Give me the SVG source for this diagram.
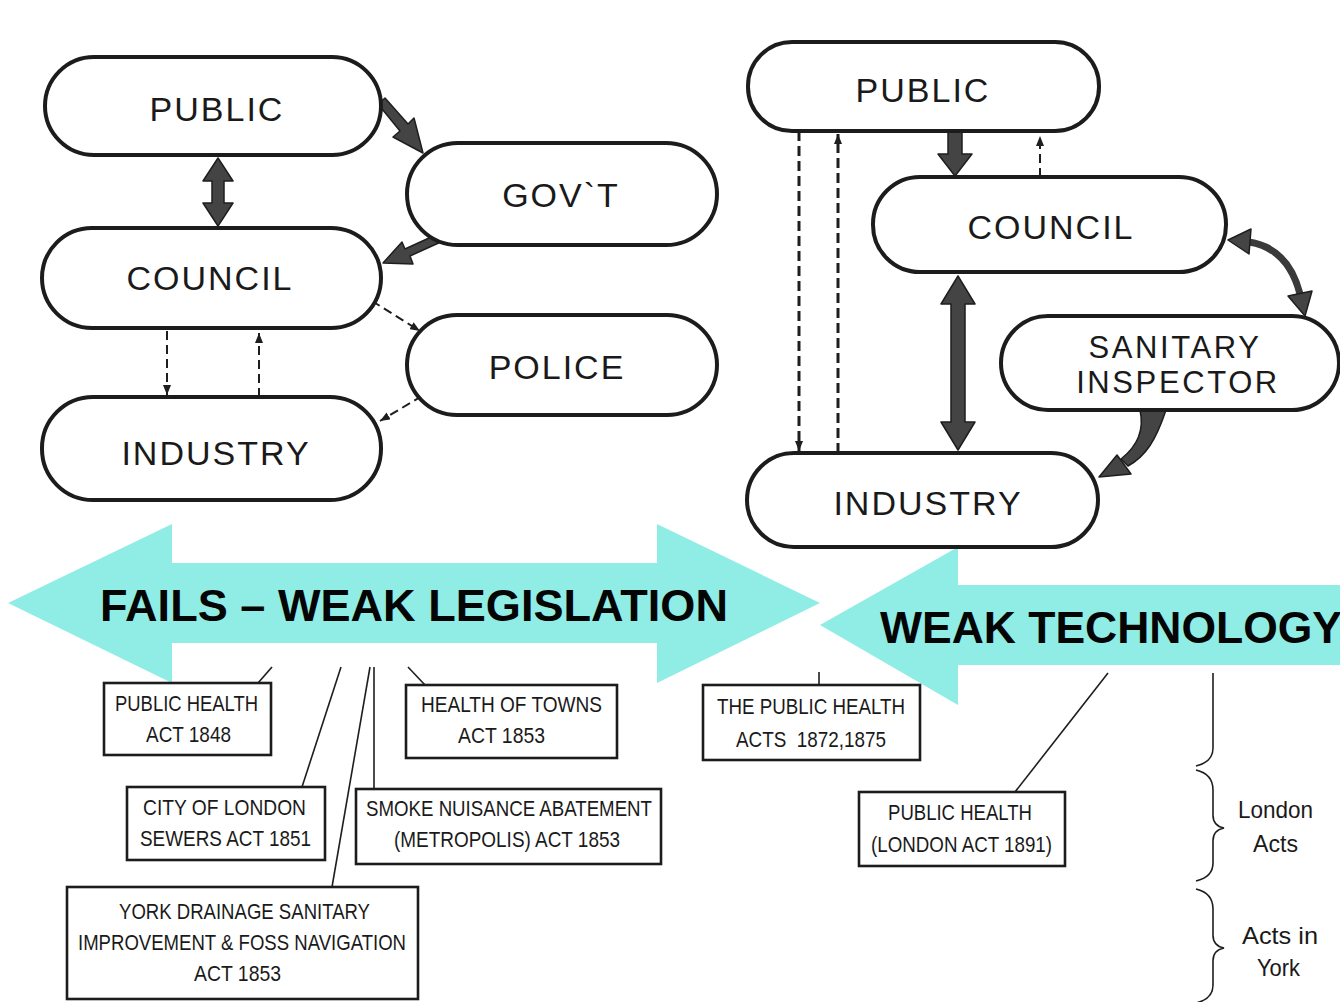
<svg xmlns="http://www.w3.org/2000/svg" width="1340" height="1002" viewBox="0 0 1340 1002">
<defs>
<style>
.pill{fill:#fff;stroke:#1c1c1c;stroke-width:4}
.nt{font-family:"Liberation Sans",Arial,sans-serif;font-size:34px;letter-spacing:2px;fill:#1a1a1a;text-anchor:middle}
.nt2{font-family:"Liberation Sans",Arial,sans-serif;font-size:31px;letter-spacing:2.6px;fill:#1a1a1a;text-anchor:middle}
.box{fill:#fff;stroke:#1c1c1c;stroke-width:2.6}
.bt{font-family:"Liberation Sans",Arial,sans-serif;font-size:22px;fill:#1a1a1a}
.big{font-family:"Liberation Sans",Arial,sans-serif;font-size:44px;font-weight:bold;fill:#050505}
.thick{fill:#444;stroke:#1e1e1e;stroke-width:1.5;stroke-linejoin:round}
.dash{fill:none;stroke:#1e1e1e;stroke-width:2;stroke-dasharray:9 5}
.dash2{fill:none;stroke:#1e1e1e;stroke-width:3;stroke-dasharray:10 5}
.ln{fill:none;stroke:#1e1e1e;stroke-width:1.6}
.cyan{fill:#8FEDE5}
</style>
<marker id="ah" viewBox="0 0 10 8" markerWidth="10" markerHeight="8" refX="10" refY="4" orient="auto" markerUnits="userSpaceOnUse">
<path d="M0,0 L10,4 L0,8 z" fill="#1e1e1e"/>
</marker>
</defs>

<g id="banners">
<polygon class="cyan" points="8,603 172,524 172,563 657,563 657,524 820,603 657,683 657,643 172,643 172,683"/>
<polygon class="cyan" points="820,625 958,547 958,585 1345,585 1345,665 958,665 958,705"/>
<text class="big" x="100" y="621" textLength="628" lengthAdjust="spacingAndGlyphs">FAILS – WEAK LEGISLATION</text>
<text class="big" x="880" y="643" textLength="462" lengthAdjust="spacingAndGlyphs">WEAK TECHNOLOGY</text>
</g>

<g id="connectors">
<!-- left diagram -->
<polygon class="thick" points="378,104 385,98 408,124 414,118 423,153 393,137 400,131"/>
<polygon class="thick" points="218,158 233,181 224,181 224,203 233,203 218,226 203,203 212,203 212,181 203,181"/>
<polygon class="thick" points="440,233 443,241 410,256 413,264 383,263 402,242 405,249"/>
<line class="dash" x1="372" y1="301" x2="420" y2="331" marker-end="url(#ah)"/>
<line class="dash" x1="422" y1="396" x2="380" y2="421" marker-end="url(#ah)"/>
<line class="dash" x1="167" y1="331" x2="167" y2="395" marker-end="url(#ah)"/>
<line class="dash" x1="259" y1="397" x2="259" y2="333" marker-end="url(#ah)"/>
<!-- right diagram -->
<polygon class="thick" points="948,131 962,131 962,154 972,154 955,176 938,154 948,154"/>
<line class="dash" x1="1040" y1="177" x2="1040" y2="136" marker-end="url(#ah)"/>
<line class="dash2" x1="799" y1="131" x2="799" y2="451" marker-end="url(#ah)"/>
<line class="dash2" x1="838" y1="453" x2="838" y2="134" marker-end="url(#ah)"/>
<polygon class="thick" points="958,276 975,304 965,304 965,422 975,422 958,450 941,422 951,422 951,304 941,304"/>
<path d="M1249,242 Q1288,248 1300,294" fill="none" stroke="#3a3a3a" stroke-width="7"/>
<polygon class="thick" points="1228,240 1251,229 1249,254"/>
<polygon class="thick" points="1305,316 1288,296 1312,291"/>
<path class="thick" d="M1140,410 L1166,410 C1156,440 1146,456 1128,466 L1121,459 C1135,448 1145,432 1140,410 z"/>
<polygon class="thick" points="1099,477 1117,455 1131,474"/>
<!-- legislation leaders -->
<line class="ln" x1="272" y1="667" x2="258" y2="683"/>
<line class="ln" x1="341" y1="667" x2="302" y2="787"/>
<line class="ln" x1="370" y1="667" x2="332" y2="887"/>
<line class="ln" x1="374" y1="667" x2="374" y2="789"/>
<line class="ln" x1="408" y1="667" x2="425" y2="685"/>
<line class="ln" x1="819" y1="672" x2="819" y2="685"/>
<line class="ln" x1="1108" y1="673" x2="1015" y2="792"/>
<!-- braces -->
<path class="ln" d="M1213,673 L1213,748 Q1213,762 1196,766"/>
<path class="ln" d="M1196,770 Q1213,774 1213,790 L1213,815 Q1213,826 1224,828 Q1213,830 1213,841 L1213,863 Q1213,877 1196,881"/>
<path class="ln" d="M1196,889 Q1213,893 1213,909 L1213,935 Q1213,946 1224,948 Q1213,950 1213,961 L1213,985 Q1213,999 1196,1003"/>
</g>

<g id="L-public"><rect class="pill" x="45" y="57" width="336" height="98" rx="49"/><text class="nt" x="217" y="121">PUBLIC</text></g>
<g id="L-govt"><rect class="pill" x="407" y="143" width="310" height="102" rx="51"/><text class="nt" x="561" y="207">GOV`T</text></g>
<g id="L-council"><rect class="pill" x="42" y="228" width="339" height="100" rx="50"/><text class="nt" x="210" y="290">COUNCIL</text></g>
<g id="L-police"><rect class="pill" x="407" y="315" width="310" height="100" rx="50"/><text class="nt" x="557" y="379">POLICE</text></g>
<g id="L-industry"><rect class="pill" x="42" y="397" width="339" height="103" rx="51"/><text class="nt" x="216" y="465">INDUSTRY</text></g>

<g id="R-public"><rect class="pill" x="748" y="42" width="351" height="89" rx="44"/><text class="nt" x="923" y="102">PUBLIC</text></g>
<g id="R-council"><rect class="pill" x="873" y="177" width="353" height="95" rx="47"/><text class="nt" x="1051" y="239">COUNCIL</text></g>
<g id="R-sanitary"><rect class="pill" x="1001" y="316" width="338" height="94" rx="47"/><text class="nt2" x="1175" y="358">SANITARY</text><text class="nt2" x="1178" y="393">INSPECTOR</text></g>
<g id="R-industry"><rect class="pill" x="747" y="453" width="351" height="94" rx="47"/><text class="nt" x="928" y="515">INDUSTRY</text></g>

<g id="act-1848"><rect class="box" x="104" y="683" width="167" height="72"/>
<text class="bt" x="115" y="711" textLength="143" lengthAdjust="spacingAndGlyphs">PUBLIC HEALTH</text>
<text class="bt" x="146" y="742" textLength="85" lengthAdjust="spacingAndGlyphs">ACT 1848</text></g>
<g id="act-towns"><rect class="box" x="406" y="685" width="211" height="73"/>
<text class="bt" x="421" y="712" textLength="181" lengthAdjust="spacingAndGlyphs">HEALTH OF TOWNS</text>
<text class="bt" x="458" y="743" textLength="87" lengthAdjust="spacingAndGlyphs">ACT 1853</text></g>
<g id="act-city"><rect class="box" x="127" y="787" width="198" height="73"/>
<text class="bt" x="143" y="815" textLength="163" lengthAdjust="spacingAndGlyphs">CITY OF LONDON</text>
<text class="bt" x="140" y="846" textLength="171" lengthAdjust="spacingAndGlyphs">SEWERS ACT 1851</text></g>
<g id="act-smoke"><rect class="box" x="356" y="789" width="305" height="75"/>
<text class="bt" x="366" y="816" textLength="286" lengthAdjust="spacingAndGlyphs">SMOKE NUISANCE ABATEMENT</text>
<text class="bt" x="394" y="847" textLength="226" lengthAdjust="spacingAndGlyphs">(METROPOLIS) ACT 1853</text></g>
<g id="act-york"><rect class="box" x="67" y="887" width="351" height="112"/>
<text class="bt" x="119" y="919" textLength="251" lengthAdjust="spacingAndGlyphs">YORK DRAINAGE SANITARY</text>
<text class="bt" x="78" y="950" textLength="328" lengthAdjust="spacingAndGlyphs">IMPROVEMENT &amp; FOSS NAVIGATION</text>
<text class="bt" x="194" y="981" textLength="87" lengthAdjust="spacingAndGlyphs">ACT 1853</text></g>
<g id="act-1872"><rect class="box" x="703" y="685" width="217" height="75"/>
<text class="bt" x="717" y="714" textLength="188" lengthAdjust="spacingAndGlyphs">THE PUBLIC HEALTH</text>
<text class="bt" x="736" y="747" textLength="150" lengthAdjust="spacingAndGlyphs">ACTS&#160;&#160;1872,1875</text></g>
<g id="act-1891"><rect class="box" x="859" y="792" width="206" height="74"/>
<text class="bt" x="888" y="820" textLength="144" lengthAdjust="spacingAndGlyphs">PUBLIC HEALTH</text>
<text class="bt" x="871" y="852" textLength="181" lengthAdjust="spacingAndGlyphs">(LONDON ACT 1891)</text></g>

<g id="brace-labels">
<text class="bt" style="font-size:24px" x="1238" y="818" textLength="75" lengthAdjust="spacingAndGlyphs">London</text>
<text class="bt" style="font-size:24px" x="1253" y="852" textLength="45" lengthAdjust="spacingAndGlyphs">Acts</text>
<text class="bt" style="font-size:24px" x="1242" y="944" textLength="76" lengthAdjust="spacingAndGlyphs">Acts in</text>
<text class="bt" style="font-size:24px" x="1257" y="976" textLength="43" lengthAdjust="spacingAndGlyphs">York</text>
</g>
</svg>
